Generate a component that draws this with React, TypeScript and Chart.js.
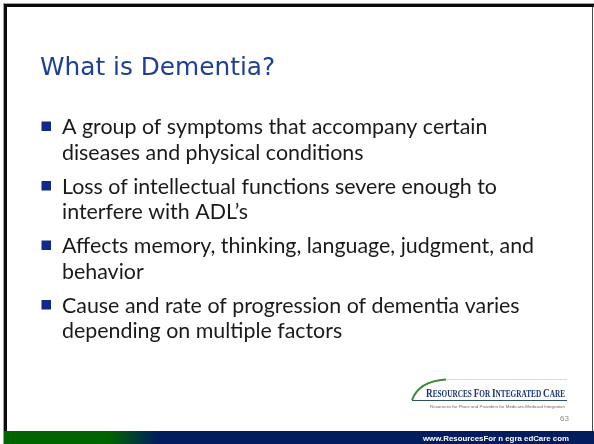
import React, { useEffect, useRef } from "react";
import { Chart, registerables } from "chart.js";

Chart.register(...registerables);

// ---- slide content ----
const TITLE = "What is Dementia?";
const BULLET_1 = ["A group of symptoms that accompany certain", "diseases and physical conditions"];
const BULLET_2 = ["Loss of intellectual functions severe enough to", "interfere with ADL\u2019s"];
const BULLET_3 = ["Affects memory, thinking, language, judgment, and", "behavior"];
const BULLET_4 = ["Cause and rate of progression of dementia varies", "depending on multiple factors"];
const BULLETS = [BULLET_1, BULLET_2, BULLET_3, BULLET_4];
const LOGO_WORDS = ["Resources", "for", "Integrated", "Care"];
const LOGO_TAGLINE = "Resources for Plans and Providers for Medicare-Medicaid Integration";
const PAGE_NUMBER = "63";
const FOOTER_URL = "www.ResourcesFor n egra edCare com";

const W = 594;
const H = 444;

function fitText(ctx: CanvasRenderingContext2D, text: string, x: number, y: number, width: number) {
  const w = ctx.measureText(text).width;
  ctx.save();
  ctx.translate(x, y);
  ctx.scale(width / w, 1);
  ctx.fillText(text, 0, 0);
  ctx.restore();
}

const slidePlugin = {
  id: "slide",
  beforeDraw(chart: any) {
    const ctx: CanvasRenderingContext2D = chart.ctx;
    ctx.save();
    // page
    ctx.fillStyle = "#ffffff";
    ctx.fillRect(0, 0, W, H);

    // frame
    ctx.fillStyle = "#a0a0a0";
    ctx.fillRect(3, 3, W - 3, 1);
    ctx.fillRect(3, 3, 1, H - 3);
    ctx.fillStyle = "#0a0a0a";
    ctx.fillRect(4, 4, W - 4, 3);
    ctx.fillRect(4, 4, 3, H - 4);
    ctx.fillStyle = "#4a4a4a";
    ctx.fillRect(592, 7, 1, 424);

    // footer bar
    const g = ctx.createLinearGradient(4, 0, W, 0);
    g.addColorStop(0, "#006400");
    g.addColorStop((108 - 4) / (W - 4), "#006400");
    g.addColorStop((158 - 4) / (W - 4), "#021c5e");
    g.addColorStop(1, "#021c5e");
    ctx.fillStyle = g;
    ctx.fillRect(4, 431, W - 4, H - 431);

    ctx.fillStyle = "#ffffff";
    ctx.font = "bold 8px 'Liberation Sans', Arial, sans-serif";
    ctx.textBaseline = "alphabetic";
    fitText(ctx, FOOTER_URL, 423, 441, 146);

    // title
    ctx.fillStyle = "#1f3f96";
    ctx.font = "24.8px 'DejaVu Sans', Verdana, sans-serif";
    ctx.fillText(TITLE, 40, 75);

    // bullets
    BULLETS.forEach((lines, i) => {
      const y0 = 134 + i * 59.5;
      ctx.fillStyle = "#13298a";
      ctx.fillRect(41.5, y0 - 12.5, 9.5, 9.5);
      ctx.fillStyle = "#1a1a1a";
      ctx.font = "21.4px Lato, 'Open Sans', sans-serif";
      lines.forEach((line, j) => {
        ctx.fillText(line, 62, y0 + j * 25.5);
      });
    });

    // logo swoosh and rules
    ctx.strokeStyle = "#d3dcd3";
    ctx.lineWidth = 1;
    ctx.beginPath();
    ctx.moveTo(440, 379.5);
    ctx.lineTo(567, 379.5);
    ctx.stroke();
    ctx.strokeStyle = "#3c8a3c";
    ctx.lineWidth = 2;
    ctx.beginPath();
    ctx.moveTo(412, 400);
    ctx.quadraticCurveTo(419, 381, 446, 379.5);
    ctx.stroke();
    ctx.strokeStyle = "#33505e";
    ctx.lineWidth = 1;
    ctx.beginPath();
    ctx.moveTo(412, 400.5);
    ctx.lineTo(567, 400.5);
    ctx.stroke();

    // logo text (small caps)
    ctx.fillStyle = "#1b3376";
    const big = "bold 12px 'Liberation Serif', serif";
    const small = "bold 9.5px 'Liberation Serif', serif";
    const pieces: { t: string; f: string }[] = [];
    LOGO_WORDS.forEach((w, k) => {
      pieces.push({ t: w[0].toUpperCase(), f: big });
      pieces.push({ t: w.slice(1).toUpperCase() + (k < LOGO_WORDS.length - 1 ? " " : ""), f: small });
    });
    let total = 0;
    pieces.forEach((p) => {
      ctx.font = p.f;
      total += ctx.measureText(p.t).width;
    });
    ctx.save();
    ctx.translate(426, 397);
    ctx.scale(139 / total, 1);
    let cx = 0;
    pieces.forEach((p) => {
      ctx.font = p.f;
      ctx.fillText(p.t, cx, 0);
      cx += ctx.measureText(p.t).width;
    });
    ctx.restore();

    // tagline
    ctx.fillStyle = "#6a6a6a";
    ctx.font = "4px 'Liberation Sans', sans-serif";
    fitText(ctx, LOGO_TAGLINE, 430, 407.5, 135);

    // page number
    ctx.fillStyle = "#8a8a8a";
    ctx.font = "8px 'Liberation Sans', sans-serif";
    ctx.textAlign = "right";
    ctx.fillText(PAGE_NUMBER, 569, 421);
    ctx.restore();
  },
};

export default function App() {
  const ref = useRef<HTMLCanvasElement | null>(null);
  useEffect(() => {
    document.body.style.margin = "0";
    const canvas = ref.current;
    if (!canvas) return;
    const chart = new Chart(canvas, {
      type: "bar",
      data: { labels: [], datasets: [] },
      options: {
        responsive: false,
        maintainAspectRatio: false,
        animation: false,
        devicePixelRatio: 1,
        events: [],
        plugins: {
          legend: { display: false },
          title: { display: false },
          tooltip: { enabled: false },
        },
        scales: { x: { display: false }, y: { display: false } },
      },
      plugins: [slidePlugin],
    });
    return () => chart.destroy();
  }, []);
  return (
    <div style={{ position: "fixed", left: 0, top: 0, width: W, height: H, overflow: "hidden" }}>
      <canvas ref={ref} width={W} height={H} style={{ display: "block", width: W, height: H }} />
    </div>
  );
}
